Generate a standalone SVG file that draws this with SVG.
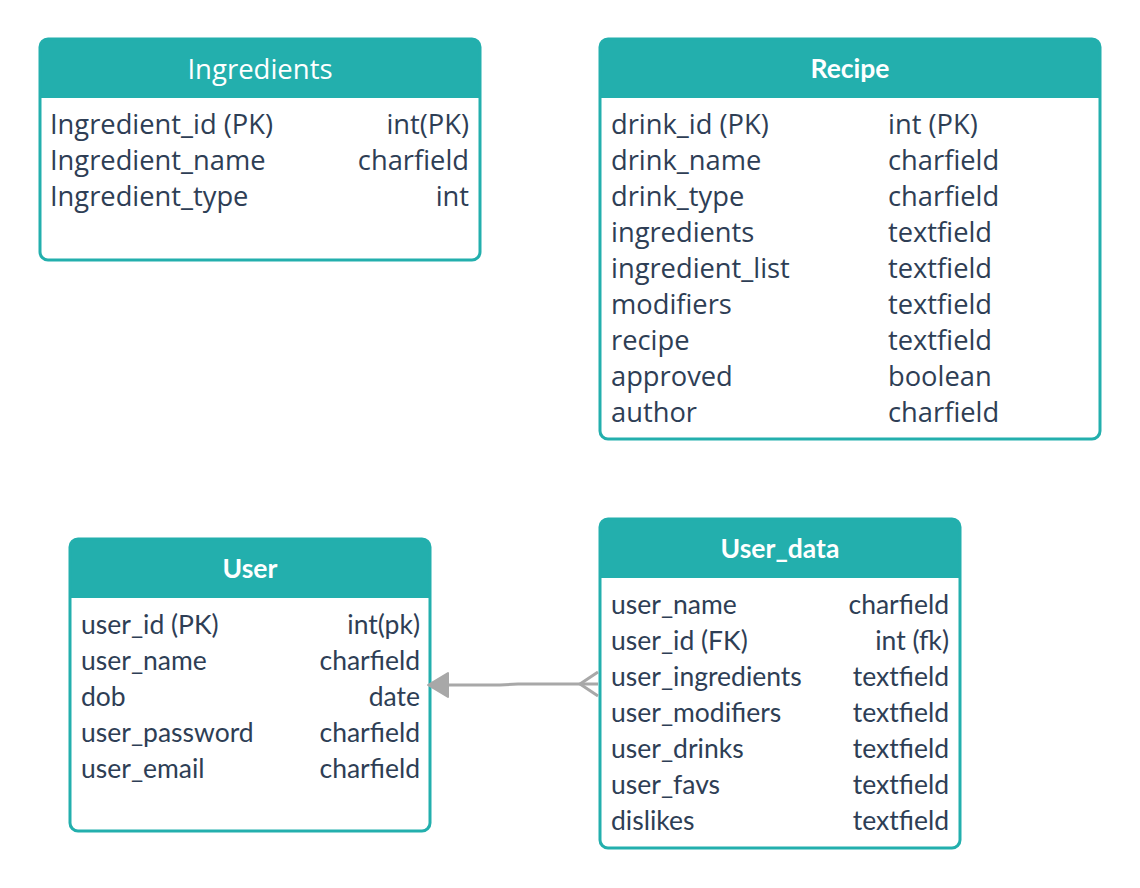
<svg xmlns="http://www.w3.org/2000/svg" width="1140" height="888" viewBox="0 0 1140 888">
<defs>
<style>
.box{fill:none;stroke:#23afad;stroke-width:3}
.hdr{fill:#23afad}
.title{font-family:Lato,"Open Sans",sans-serif;font-size:26.5px;font-weight:700;fill:#ffffff;text-anchor:middle}
.titleo{font-family:"Open Sans",sans-serif;font-size:27.5px;font-weight:500;fill:#ffffff;text-anchor:middle}
.o{font-family:"Open Sans",sans-serif;font-size:27.3px;fill:#2e3e55}
.l{font-family:Lato,sans-serif;font-size:26.5px;fill:#2e3e55}
.r{text-anchor:end}
.conn{fill:none;stroke:#a8a8a8;stroke-width:3}
</style>
</defs>
<rect width="1140" height="888" fill="#ffffff"/>

<g id="ingredients">
<path class="hdr" d="M40,98 V47 a8,8 0 0 1 8,-8 H472 a8,8 0 0 1 8,8 V98 Z"/>
<rect class="box" x="40" y="39" width="440" height="221" rx="8"/>
<text class="titleo" x="260" y="79">Ingredients</text>
<text class="o" x="50" y="134">Ingredient_id (PK)</text>
<text class="o r" x="469" y="134">int(PK)</text>
<text class="o" x="50" y="170">Ingredient_name</text>
<text class="o r" x="469" y="170">charfield</text>
<text class="o" x="50" y="206">Ingredient_type</text>
<text class="o r" x="469" y="206">int</text>
</g>

<g id="recipe">
<path class="hdr" d="M600,98 V47 a8,8 0 0 1 8,-8 H1092 a8,8 0 0 1 8,8 V98 Z"/>
<rect class="box" x="600" y="39" width="500" height="400" rx="8"/>
<text class="title" x="850" y="78">Recipe</text>
<text class="o" x="611" y="134">drink_id (PK)</text>
<text class="o" x="888" y="134">int (PK)</text>
<text class="o" x="611" y="170">drink_name</text>
<text class="o" x="888" y="170">charfield</text>
<text class="o" x="611" y="206">drink_type</text>
<text class="o" x="888" y="206">charfield</text>
<text class="o" x="611" y="242">ingredients</text>
<text class="o" x="888" y="242">textfield</text>
<text class="o" x="611" y="278">ingredient_list</text>
<text class="o" x="888" y="278">textfield</text>
<text class="o" x="611" y="314">modifiers</text>
<text class="o" x="888" y="314">textfield</text>
<text class="o" x="611" y="350">recipe</text>
<text class="o" x="888" y="350">textfield</text>
<text class="o" x="611" y="386">approved</text>
<text class="o" x="888" y="386">boolean</text>
<text class="o" x="611" y="422">author</text>
<text class="o" x="888" y="422">charfield</text>
</g>

<g id="user">
<path class="hdr" d="M70,598 V547 a8,8 0 0 1 8,-8 H422 a8,8 0 0 1 8,8 V598 Z"/>
<rect class="box" x="70" y="539" width="360" height="292" rx="8"/>
<text class="title" x="250" y="578">User</text>
<text class="l" x="81" y="634">user_id (PK)</text>
<text class="l r" x="420" y="634">int(pk)</text>
<text class="l" x="81" y="670">user_name</text>
<text class="l r" x="420" y="670">charfield</text>
<text class="l" x="81" y="706">dob</text>
<text class="l r" x="420" y="706">date</text>
<text class="l" x="81" y="742">user_password</text>
<text class="l r" x="420" y="742">charfield</text>
<text class="l" x="81" y="778">user_email</text>
<text class="l r" x="420" y="778">charfield</text>
</g>

<g id="user_data">
<path class="hdr" d="M600,578 V527 a8,8 0 0 1 8,-8 H952 a8,8 0 0 1 8,8 V578 Z"/>
<rect class="box" x="600" y="519" width="360" height="329" rx="8"/>
<text class="title" x="780" y="558">User_data</text>
<text class="l" x="611" y="614">user_name</text>
<text class="l r" x="949" y="614">charfield</text>
<text class="l" x="611" y="650">user_id (FK)</text>
<text class="l r" x="949" y="650">int (fk)</text>
<text class="l" x="611" y="686">user_ingredients</text>
<text class="l r" x="949" y="686">textfield</text>
<text class="l" x="611" y="722">user_modifiers</text>
<text class="l r" x="949" y="722">textfield</text>
<text class="l" x="611" y="758">user_drinks</text>
<text class="l r" x="949" y="758">textfield</text>
<text class="l" x="611" y="794">user_favs</text>
<text class="l r" x="949" y="794">textfield</text>
<text class="l" x="611" y="830">dislikes</text>
<text class="l r" x="949" y="830">textfield</text>
</g>

<g id="connectors">
<path class="conn" d="M598,684 H518 L500,685 H446"/>
<path class="conn" d="M598,672 L580,684 L598,696"/>
<path d="M428,685 L448,673 L448,697 Z" fill="#a8a8a8" stroke="#a8a8a8" stroke-width="2" stroke-linejoin="round"/>
</g>
</svg>
